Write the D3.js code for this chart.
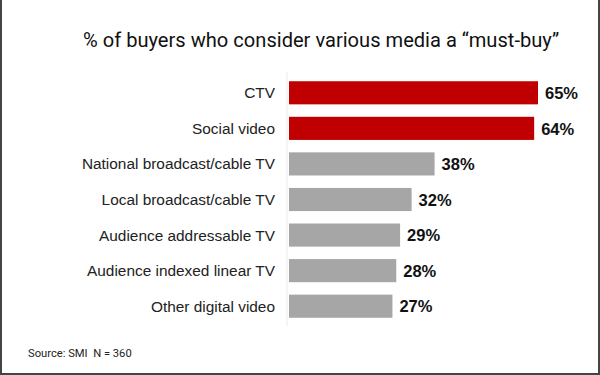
<!DOCTYPE html>
<html>
<head>
<meta charset="utf-8">
<script src="https://cdn.jsdelivr.net/npm/d3@7"></script>
<style>
  body { margin: 0; background: #fff; }
  svg { display: block; }
</style>
</head>
<body>
<svg id="chart" width="600" height="375"></svg>
<script>
// data
var categories = ["CTV", "Social video", "National broadcast/cable TV", "Local broadcast/cable TV",
  "Audience addressable TV", "Audience indexed linear TV", "Other digital video"];
var values = [65, 64, 38, 32, 29, 28, 27];
var highlighted = ["CTV", "Social video"];

var svg = d3.select("#chart");

// frame: dark edge on left, right and bottom
svg.append("rect").attr("x", 0).attr("y", 0).attr("width", 2).attr("height", 375).attr("fill", "#444");
svg.append("rect").attr("x", 598).attr("y", 0).attr("width", 2).attr("height", 375).attr("fill", "#444");
svg.append("rect").attr("x", 0).attr("y", 373).attr("width", 600).attr("height", 2).attr("fill", "#444");

svg.append("text")
  .attr("x", 83)
  .attr("y", 47)
  .attr("font-family", "Roboto, sans-serif")
  .attr("font-size", 20.1)
  .attr("fill", "#111")
  .text("% of buyers who consider various media a \u201cmust-buy\u201d");

var x = d3.scaleLinear().domain([0, 65]).range([289, 538]);
var y = d3.scaleBand().domain(categories).range([75, 324]).paddingInner(0.35).paddingOuter(0.175);

// faint baseline
svg.append("line")
  .attr("x1", 287).attr("x2", 287)
  .attr("y1", 72).attr("y2", 326)
  .attr("stroke", "#ececec");

var rows = svg.append("g").selectAll("g")
  .data(categories.map(function(c, i) { return { name: c, value: values[i] }; }))
  .join("g");

rows.append("rect")
  .attr("x", x(0))
  .attr("y", function(d) { return y(d.name); })
  .attr("width", function(d) { return x(d.value) - x(0); })
  .attr("height", y.bandwidth())
  .attr("fill", function(d) { return highlighted.indexOf(d.name) >= 0 ? "#c00000" : "#a6a6a6"; });

rows.append("text")
  .attr("x", 275)
  .attr("y", function(d) { return y(d.name) + y.bandwidth() / 2; })
  .attr("dy", "0.36em")
  .attr("text-anchor", "end")
  .attr("font-family", "Liberation Sans, Arial, sans-serif")
  .attr("font-size", 15.4)
  .attr("fill", "#222")
  .text(function(d) { return d.name; });

rows.append("text")
  .attr("x", function(d) { return x(d.value) + 7; })
  .attr("y", function(d) { return y(d.name) + y.bandwidth() / 2; })
  .attr("dy", "0.38em")
  .attr("font-family", "Liberation Sans, Arial, sans-serif")
  .attr("font-weight", "bold")
  .attr("font-size", 16.5)
  .attr("fill", "#111")
  .text(function(d) { return d.value + "%"; });

svg.append("text")
  .attr("x", 28)
  .attr("y", 357)
  .attr("font-family", "Roboto, sans-serif")
  .attr("font-size", 11.2)
  .attr("fill", "#222")
  .style("white-space", "pre")
  .text("Source: SMI  N = 360");
</script>
</body>
</html>
